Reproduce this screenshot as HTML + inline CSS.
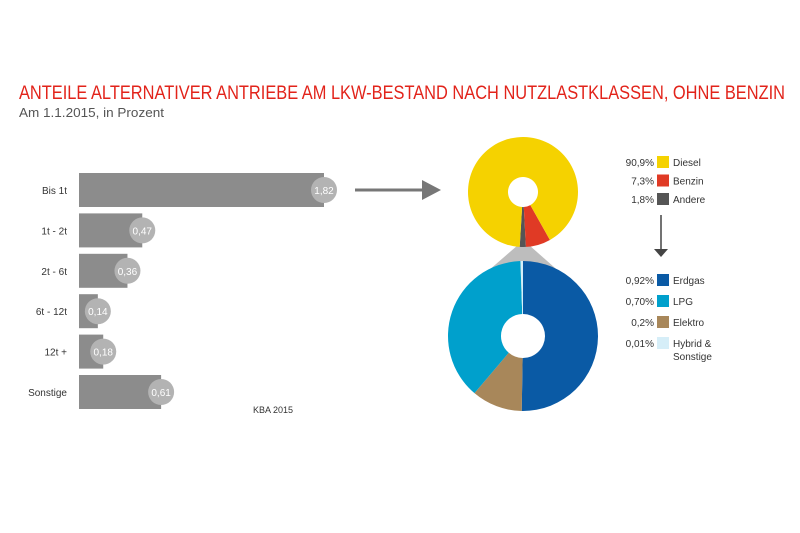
<!DOCTYPE html>
<html><head><meta charset="utf-8"><style>
html,body{margin:0;padding:0;background:#fff}
svg{display:block;font-family:"Liberation Sans",sans-serif}
</style></head><body>
<svg id="c" width="800" height="533" viewBox="0 0 800 533">
<text x="19" y="99" font-size="19" fill="#e2231a" textLength="766" lengthAdjust="spacingAndGlyphs">ANTEILE ALTERNATIVER ANTRIEBE AM LKW-BESTAND NACH NUTZLASTKLASSEN, OHNE BENZIN</text>
<text x="19" y="117" font-size="13" fill="#555" textLength="145" lengthAdjust="spacingAndGlyphs">Am 1.1.2015, in Prozent</text>
<g id="bars"></g>
<text x="253" y="413" font-size="9" fill="#333">KBA 2015</text>
<g>
<line x1="355" y1="190" x2="425" y2="190" stroke="#777" stroke-width="3"/>
<polygon points="422,180 441,190 422,200" fill="#777"/>
</g>
<polygon points="518,245 529,245 580,290 466,290" fill="#bdbdbd"/>
<g id="pies"></g>
<g id="legend"></g>
<g>
<line x1="661" y1="215" x2="661" y2="250" stroke="#444" stroke-width="1.5"/>
<polygon points="654,249 668,249 661,257" fill="#444"/>
</g>
</svg>
<script>
const categories=["Bis 1t","1t - 2t","2t - 6t","6t - 12t","12t +","Sonstige"];
const values=[1.82,0.47,0.36,0.14,0.18,0.61];
const valueLabels=["1,82","0,47","0,36","0,14","0,18","0,61"];
const topLabels=["Diesel","Benzin","Andere"];
const topValues=[90.9,7.3,1.8];
const topValueLabels=["90,9%","7,3%","1,8%"];
const bottomLabels=["Erdgas","LPG","Elektro","Hybrid & Sonstige"];
const bottomValues=[0.92,0.70,0.2,0.01];
const bottomValueLabels=["0,92%","0,70%","0,2%","0,01%"];
const NS="http://www.w3.org/2000/svg";
function mk(t,a,p){const e=document.createElementNS(NS,t);for(const k in a)e.setAttribute(k,a[k]);p.appendChild(e);return e;}
const x0=79,scale=245/1.82;
const xS=v=>x0+v*scale;
const yS=i=>173+i*40.4;
const bars=document.getElementById('bars');
categories.forEach((c,i)=>{
 const y=yS(i),xe=xS(values[i]);
 const l=mk('text',{x:67,y:y+21,'font-size':10,fill:'#333','text-anchor':'end'},bars);l.textContent=c;
 
 
 const r=mk('rect',{x:x0,y:y,width:xe-x0,height:34,fill:'#8c8c8c'},bars);
 
 
 const ci=mk('circle',{cx:Math.max(xe,x0+17),cy:y+17,r:13,fill:'#b3b3b3'},bars);
 
 
 const t=mk('text',{x:Math.max(xe,x0+17),y:y+21,'font-size':10,fill:'#fff','text-anchor':'middle'},bars);t.textContent=valueLabels[i];
 
 
});
const pies=document.getElementById('pies');
function arc(cx,cy,R,r,a0,a1,col,name){
 const s=(rad,a)=>[cx+rad*Math.sin(a),cy-rad*Math.cos(a)];
 const lg=(a1-a0)>Math.PI?1:0;
 const [x1,y1]=s(R,a0),[x2,y2]=s(R,a1),[x3,y3]=s(r,a1),[x4,y4]=s(r,a0);
 const e=mk('path',{d:`M${x1},${y1}A${R},${R} 0 ${lg} 1 ${x2},${y2}L${x3},${y3}A${r},${r} 0 ${lg} 0 ${x4},${y4}Z`,fill:col},pies);
 
 
}
const topCols=["#f5d200","#e03a25","#555555"];
{
 const tot=topValues.reduce((a,b)=>a+b,0);
 let end=Math.PI+0.06;
 [2,1,0].forEach(i=>{const st=end-topValues[i]/tot*2*Math.PI;arc(523,192,55,15,st,end,topCols[i],'slice-'+topLabels[i].toLowerCase());end=st;});
}
const botCols=["#0a5aa5","#00a0cc","#a8875a","#d6eef8"];
{
 const tot=bottomValues.reduce((a,b)=>a+b,0);
 let st=0;
 [0,2,1,3].forEach(i=>{const en=st+bottomValues[i]/tot*2*Math.PI;arc(523,336,75,22,st,en,botCols[i],'slice-'+bottomLabels[i].split(' ')[0].toLowerCase());st=en;});
}
const lg=document.getElementById('legend');
function entry(y,val,lab,col){
 const t=mk('text',{x:654,y:y+4,'font-size':10,fill:'#333','text-anchor':'end'},lg);t.textContent=val;
 
 
 const r=mk('rect',{x:657,y:y-6,width:12,height:12,fill:col},lg);
 
 
 const parts=lab.split(' & ');
 const l=mk('text',{x:673,y:y+4,'font-size':10,fill:'#333'},lg);l.textContent=parts.length>1?parts[0]+' &':lab;
 
 
 if(parts.length>1){const l2=mk('text',{x:673,y:y+17,'font-size':10,fill:'#333'},lg);l2.textContent=parts[1];
 
 }
}
topLabels.forEach((l,i)=>entry(162+i*18.5,topValueLabels[i],l,topCols[i]));
bottomLabels.forEach((l,i)=>entry(280+i*21,bottomValueLabels[i],l,botCols[i]));
</script>
</body></html>
